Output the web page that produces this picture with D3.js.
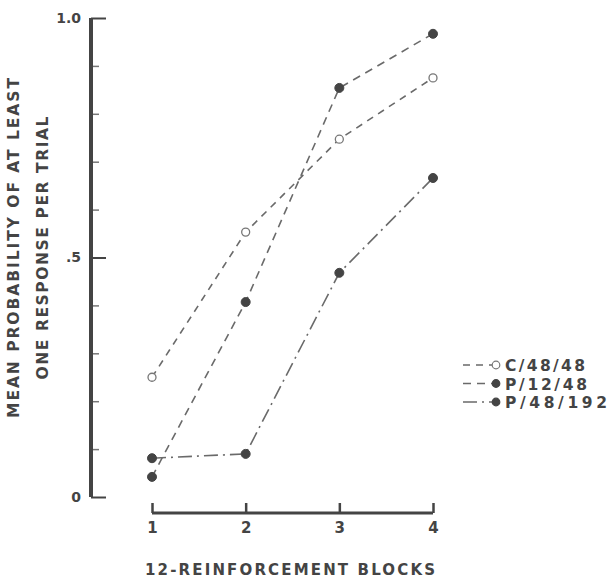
<!DOCTYPE html>
<html><head><meta charset="utf-8">
<script src="https://cdn.jsdelivr.net/npm/d3@7"></script>
<style>
body{margin:0;background:#fff;}
text{font-family:"DejaVu Sans","Liberation Sans",Arial,sans-serif;font-weight:bold;fill:#444;}
</style></head>
<body><svg id="c" width="611" height="579"></svg>
<script>
const blocks = [1, 2, 3, 4];
const seriesNames = ["C/48/48", "P/12/48", "P/48/192"];
const c4848 = [0.25, 0.553, 0.747, 0.875];
const p1248 = [0.042, 0.407, 0.854, 0.967];
const p48192 = [0.081, 0.09, 0.468, 0.666];
const yMajorTicks = [0, 0.5, 1.0];
const yMajorLabels = ["0", ".5", "1.0"];
const yMinorTicks = [0.1, 0.2, 0.3, 0.4, 0.6, 0.7, 0.8, 0.9];

const series = [
  {name: seriesNames[0], values: c4848, open: true, dash: "7,6", w: 80},
  {name: seriesNames[1], values: p1248, open: false, dash: "8,6", w: 82},
  {name: seriesNames[2], values: p48192, open: false, dash: "14,5,2,5", w: 102}
];

const svg = d3.select("#c");
const x = d3.scaleLinear().domain([1, 4]).range([152, 433]);
const y = d3.scaleLinear().domain([0, 1]).range([497, 18]);
const axisColor = "#444";
const lineColor = "#6a6a6a";
const fontFam = "'DejaVu Sans','Liberation Sans',Arial,sans-serif";

// Y axis minor ticks
const yMinor = svg.append("g").attr("transform", "translate(91,0)")
  .call(d3.axisLeft(y).tickValues(yMinorTicks).tickSize(-8).tickFormat(""));
yMinor.select(".domain").remove();
yMinor.selectAll("line").attr("stroke", "#777").attr("stroke-width", 1.5);

// Y axis major
const yAx = svg.append("g").attr("transform", "translate(91,0)")
  .call(d3.axisLeft(y).tickValues(yMajorTicks).tickSize(-15).tickPadding(10)
    .tickFormat((d, i) => yMajorLabels[i]));
yAx.select(".domain").attr("d", `M0,${y(1)}V${y(0)}`).attr("stroke", axisColor).attr("stroke-width", 4);
yAx.selectAll(".tick line").attr("stroke", axisColor).attr("stroke-width", 2);
yAx.selectAll(".tick text").attr("font-size", 14).attr("fill", "#444")
  .attr("font-family", fontFam).attr("font-weight", "bold");

// X axis
const xAx = svg.append("g").attr("transform", "translate(0,513)")
  .call(d3.axisBottom(x).tickValues(blocks).tickSize(-10).tickPadding(9).tickFormat(d3.format("d")));
xAx.select(".domain").attr("d", `M${x(1)},0H${x(4)}`).attr("stroke", axisColor).attr("stroke-width", 3);
xAx.selectAll(".tick line").attr("stroke", axisColor).attr("stroke-width", 2.5);
xAx.selectAll(".tick text").attr("font-size", 15).attr("fill", "#444")
  .attr("font-family", fontFam).attr("font-weight", "bold");

// X title
svg.append("text").attr("x", 290).attr("y", 575).attr("text-anchor", "middle")
  .attr("font-size", 15).attr("textLength", 290).attr("lengthAdjust", "spacing")
  .text("12-REINFORCEMENT BLOCKS");

// Y title
svg.append("text").attr("transform", "translate(19,248) rotate(-90)").attr("text-anchor", "middle")
  .attr("font-size", 15.5).attr("textLength", 340).attr("lengthAdjust", "spacing")
  .text("MEAN PROBABILITY OF AT LEAST");
svg.append("text").attr("transform", "translate(48,248) rotate(-90)").attr("text-anchor", "middle")
  .attr("font-size", 15.5).attr("textLength", 263).attr("lengthAdjust", "spacing")
  .text("ONE RESPONSE PER TRIAL");

// Lines
const line = d3.line().x((d, i) => x(blocks[i])).y(d => y(d));
series.forEach(s => {
  svg.append("path").attr("d", line(s.values)).attr("fill", "none")
    .attr("stroke", lineColor).attr("stroke-width", 1.6).attr("stroke-dasharray", s.dash);
  svg.selectAll(null).data(s.values).enter().append("circle")
    .attr("cx", (d, i) => x(blocks[i])).attr("cy", d => y(d))
    .attr("r", s.open ? 4 : 4.5)
    .attr("fill", s.open ? "#fff" : "#444")
    .attr("stroke", s.open ? "#777" : "#444").attr("stroke-width", s.open ? 1.3 : 1);
});

// Legend
const lg = svg.append("g");
series.forEach((s, i) => {
  const yy = 365 + i * 18.5;
  lg.append("line").attr("x1", 463).attr("x2", 495).attr("y1", yy).attr("y2", yy)
    .attr("stroke", lineColor).attr("stroke-width", 1.6).attr("stroke-dasharray", s.dash);
  lg.append("circle").attr("cx", 496).attr("cy", yy).attr("r", 3.8)
    .attr("fill", s.open ? "#fff" : "#444").attr("stroke", s.open ? "#777" : "#444").attr("stroke-width", 1.2);
  lg.append("text").attr("x", 505).attr("y", yy + 6).attr("font-size", 15.5)
    .attr("textLength", s.w).attr("lengthAdjust", "spacing").text(s.name);
});
</script></body></html>
